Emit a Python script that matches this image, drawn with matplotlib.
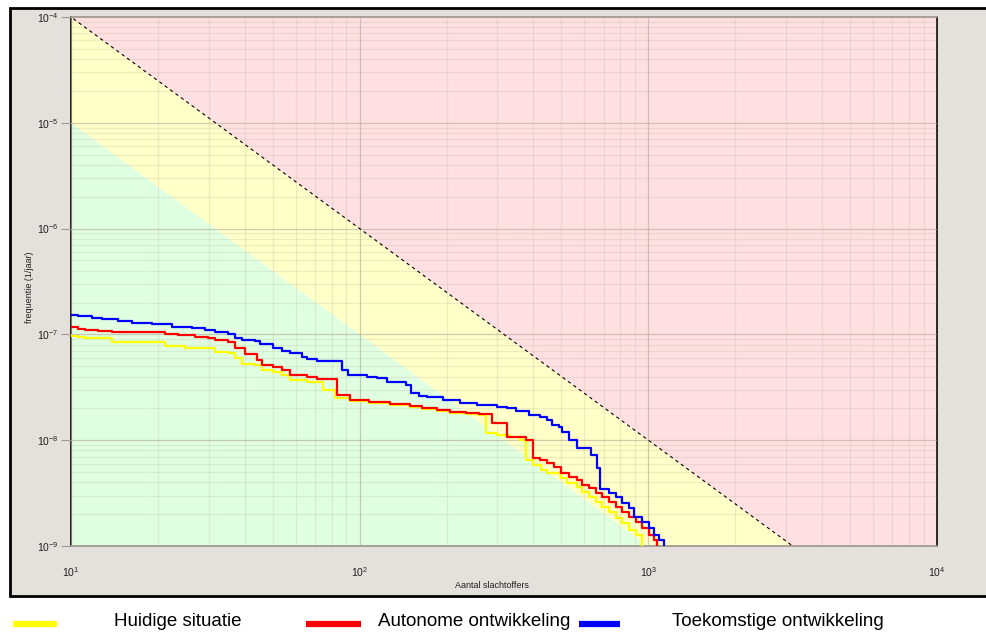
import numpy as np
import matplotlib
matplotlib.use("Agg")
import matplotlib.pyplot as plt
from matplotlib.patches import Rectangle
from matplotlib.lines import Line2D
from matplotlib.ticker import NullFormatter

plt.rcParams['font.family'] = ['Liberation Sans', 'DejaVu Sans']
plt.rcParams['mathtext.fontset'] = 'custom'
plt.rcParams['mathtext.rm'] = 'Liberation Sans'

# groepsrisico: aantal slachtoffers (N) en cumulatieve frequentie (1/jaar), trapfunctie
n_huidig = [10, 10.6, 11.2, 13.9, 21.1, 24.8, 31.5, 34.9, 36.9, 39.1, 43.3, 45.8, 50, 53.7,
            57.3, 65.5, 74.5, 81.9, 92.3, 108, 127, 149, 165, 185, 205, 234, 260, 275, 298,
            330, 358, 378, 397, 426, 447, 500, 524, 564, 591, 625, 661, 693, 733, 775, 813,
            859, 909, 952]
f_huidig = [9.66e-8, 9.45e-8, 9.25e-8, 8.47e-8, 7.76e-8, 7.44e-8, 6.82e-8, 6.67e-8, 5.98e-8,
            5.25e-8, 5.14e-8, 4.61e-8, 4.41e-8, 4.13e-8, 3.71e-8, 3.55e-8, 2.98e-8, 2.51e-8,
            2.35e-8, 2.25e-8, 2.15e-8, 2.06e-8, 1.97e-8, 1.89e-8, 1.81e-8, 1.77e-8, 1.73e-8,
            1.17e-8, 1.12e-8, 1.07e-8, 1.0e-8, 6.5e-9, 5.83e-9, 5.23e-9, 4.9e-9, 4.39e-9,
            3.94e-9, 3.61e-9, 3.24e-9, 2.9e-9, 2.6e-9, 2.34e-9, 2.1e-9, 1.84e-9, 1.65e-9,
            1.42e-9, 1.27e-9, 8e-10]

n_autonoom = [10, 10.6, 11.2, 12.4, 13.9, 21.1, 23.4, 26.9, 29.8, 31.5, 34.9, 36.9, 40, 44,
              45.8, 50, 53.7, 57.3, 65.5, 71, 83.2, 92.3, 108, 127, 149, 165, 185, 205, 234,
              260, 288, 323, 378, 397, 420, 444, 473, 500, 533, 564, 591, 625, 661, 693, 733,
              775, 813, 859, 909, 952, 1008, 1049, 1074]
f_autonoom = [1.175e-7, 1.125e-7, 1.10e-7, 1.077e-7, 1.054e-7, 1.009e-7, 9.87e-8, 9.45e-8,
              9.25e-8, 8.85e-8, 8.47e-8, 7.44e-8, 6.53e-8, 5.73e-8, 5.14e-8, 4.92e-8, 4.61e-8,
              4.13e-8, 3.96e-8, 3.79e-8, 2.67e-8, 2.40e-8, 2.30e-8, 2.20e-8, 2.11e-8, 2.01e-8,
              1.93e-8, 1.85e-8, 1.81e-8, 1.77e-8, 1.455e-8, 1.07e-8, 1.0e-8, 6.8e-9, 6.5e-9,
              6.1e-9, 5.58e-9, 4.9e-9, 4.49e-9, 4.2e-9, 3.77e-9, 3.53e-9, 3.17e-9, 2.9e-9,
              2.6e-9, 2.34e-9, 2.1e-9, 1.88e-9, 1.69e-9, 1.48e-9, 1.27e-9, 1.14e-9, 8e-10]

n_toekomst = [10, 10.6, 11.8, 12.8, 14.5, 16.3, 19.1, 22.4, 26.2, 29.1, 31.5, 34.9, 36.9,
              39.1, 43.3, 45.1, 50, 53.7, 57.3, 63, 65.5, 71, 86.7, 90.9, 105.7, 114.5, 124,
              145, 151, 161, 171, 194, 222, 254, 298, 323, 349, 387, 420, 444, 465, 492, 504,
              533, 564, 635, 666, 682, 733, 775, 813, 859, 895, 952, 1008, 1049, 1091, 1136]
f_toekomst = [1.52e-7, 1.49e-7, 1.43e-7, 1.40e-7, 1.34e-7, 1.28e-7, 1.25e-7, 1.18e-7,
              1.15e-7, 1.10e-7, 1.05e-7, 1.01e-7, 9.25e-8, 8.85e-8, 8.66e-8, 8.11e-8, 7.44e-8,
              6.97e-8, 6.67e-8, 6.11e-8, 5.85e-8, 5.61e-8, 4.61e-8, 4.13e-8, 3.96e-8, 3.87e-8,
              3.55e-8, 3.32e-8, 2.79e-8, 2.62e-8, 2.56e-8, 2.40e-8, 2.25e-8, 2.15e-8, 2.06e-8,
              2.01e-8, 1.89e-8, 1.73e-8, 1.66e-8, 1.55e-8, 1.39e-8, 1.33e-8, 1.195e-8, 1.0e-8,
              8.44e-9, 7.25e-9, 5.46e-9, 3.46e-9, 3.17e-9, 2.9e-9, 2.55e-9, 2.29e-9, 1.88e-9,
              1.69e-9, 1.48e-9, 1.27e-9, 1.14e-9, 8e-10]

reeksen = [
    ('Huidige situatie', n_huidig, f_huidig, '#ffff00'),
    ('Autonome ontwikkeling', n_autonoom, f_autonoom, '#ff0000'),
    ('Toekomstige ontwikkeling', n_toekomst, f_toekomst, '#0000ff'),
]

# oriëntatiewaarde (F = 1e-2 / N^2) en de ondergrens van de gele zone (F = 1e-3 / N^2)
orientatie_c = 1e-2
groen_c = 1e-3

W, H = 987, 633
fig = plt.figure(figsize=(W / 100, H / 100), dpi=100)
fig.patch.set_facecolor('white')

# grijs paneel met zwarte rand, achter de grafiek
paneel = Rectangle((10 / W, 1 - 596 / H), 1.2, (596 - 8) / H, transform=fig.transFigure,
                   facecolor='#e4e1dc', edgecolor='black', linewidth=2)
paneel.set_zorder(-10)
fig.add_artist(paneel)

ax = fig.add_axes([71 / W, 1 - 546 / H, (937 - 71) / W, (546 - 17) / H])
ax.set_zorder(1)
ax.set_xscale('log')
ax.set_yscale('log')
ax.set_xlim(10, 1e4)
ax.set_ylim(1e-9, 1e-4)

nn = np.array([1.0, 1e5])
ax.fill_between(nn, 1e-12, groen_c / nn**2, color='#e0ffe0', lw=0, zorder=0)
ax.fill_between(nn, groen_c / nn**2, orientatie_c / nn**2, color='#ffffc8', lw=0, zorder=0)
ax.fill_between(nn, orientatie_c / nn**2, 1e-2, color='#ffe0e2', lw=0, zorder=0)

ax.grid(which='major', color='#b4a898', alpha=0.6, lw=0.9, zorder=1)
ax.grid(which='minor', color='#b4a898', alpha=0.22, lw=0.9, zorder=1)
ax.set_axisbelow(False)

ax.plot(nn, orientatie_c / nn**2, color='black', lw=0.8, ls=(0, (3, 3)), zorder=3)

for naam, n, f, kleur in reeksen:
    ax.step(n, f, where='post', color=kleur, lw=1.6, zorder=4)

ax.xaxis.set_minor_formatter(NullFormatter())
ax.yaxis.set_minor_formatter(NullFormatter())
ax.set_xticks([10, 100, 1000, 10000])
ax.set_xticklabels([r'$10^{%d}$' % k for k in range(1, 5)], fontsize=7.5, color='#202020')
ax.set_yticks([1e-9, 1e-8, 1e-7, 1e-6, 1e-5, 1e-4])
ax.set_yticklabels([r'$10^{%d}$' % k for k in range(-9, -3)], fontsize=7.5, color='#202020')
ax.tick_params(axis='x', which='both', length=0, pad=14)
ax.tick_params(axis='y', which='major', length=7, color='#a09890', pad=2)
ax.tick_params(axis='y', which='minor', length=0)

for kant in ['left', 'right']:
    ax.spines[kant].set_color('black')
    ax.spines[kant].set_linewidth(1.2)
for kant in ['top', 'bottom']:
    ax.spines[kant].set_color('#9a948c')
    ax.spines[kant].set_linewidth(1.2)

fig.text(30 / W, 1 - 287 / H, 'frequentie (1/jaar)', rotation=90, ha='center', va='center',
         fontsize=6.5, color='#202020')
fig.text(492 / W, 1 - 585 / H, 'Aantal slachtoffers', ha='center', va='center',
         fontsize=6.5, color='#202020')

# legenda onder het paneel
leg_y = 1 - 624 / H
legenda_x = [(13, 57, 114), (306, 361, 378), (579, 620, 672)]
for (x0, x1, xt), (naam, n, f, kleur) in zip(legenda_x, reeksen):
    fig.add_artist(Line2D([x0 / W, x1 / W], [leg_y, leg_y], transform=fig.transFigure,
                          color=kleur, lw=4.5, solid_capstyle='butt'))
    fig.text(xt / W, 1 - 622 / H, naam, ha='left', va='center', fontsize=13.5, color='black')

fig.savefig('out.png', dpi=100, facecolor=fig.get_facecolor())
